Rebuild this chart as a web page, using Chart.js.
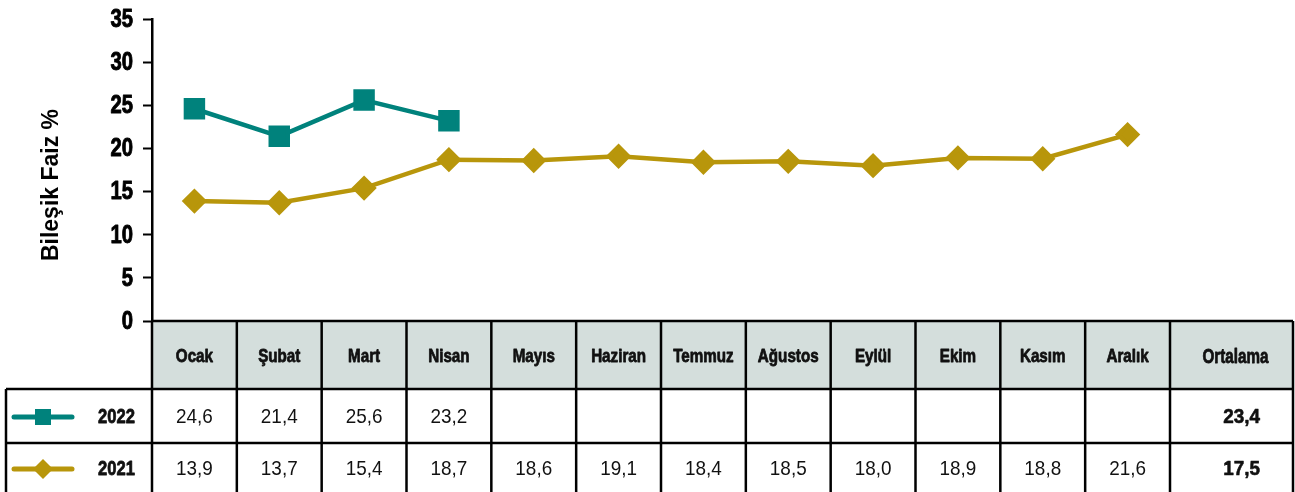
<!DOCTYPE html>
<html>
<head>
<meta charset="utf-8">
<script src="https://cdn.jsdelivr.net/npm/chart.js@4/dist/chart.umd.min.js"></script>
<style>
  body { margin: 0; background: #fff; }
  #wrap { width: 1295px; height: 492px; }
</style>
</head>
<body>
<div id="wrap"><canvas id="faiz" width="1295" height="492"></canvas></div>
<script>
const months = ["Ocak", "Şubat", "Mart", "Nisan", "Mayıs", "Haziran", "Temmuz", "Ağustos", "Eylül", "Ekim", "Kasım", "Aralık"];
const avgLabel = "Ortalama";
const years = ["2022", "2021"];
const values2022 = [24.6, 21.4, 25.6, 23.2, null, null, null, null, null, null, null, null];
const values2021 = [13.9, 13.7, 15.4, 18.7, 18.6, 19.1, 18.4, 18.5, 18.0, 18.9, 18.8, 21.6];
const averages = [23.4, 17.5];
const yTicks = [0, 5, 10, 15, 20, 25, 30, 35];
const yTitle = "Bileşik Faiz %";

const TEAL = "#00827c";
const GOLD = "#b8960b";
const SANS = "'Liberation Sans', Arial, sans-serif";

function fmt(v) {
    return v == null ? "" : v.toFixed(1).replace(".", ",");
}

// narrow text: the original uses a condensed face, so squeeze a normal one
// (heavy = thin outline so squeezed bold keeps its weight)
function narrowText(ctx, text, x, y, align, sx, heavy) {
    ctx.save();
    ctx.translate(x, y);
    ctx.scale(sx, 1);
    ctx.textAlign = align;
    ctx.fillText(text, 0, 0);
    if (heavy) {
        ctx.strokeStyle = ctx.fillStyle;
        ctx.lineWidth = heavy;
        ctx.lineJoin = "round";
        ctx.strokeText(text, 0, 0);
    }
    ctx.restore();
}

const tablePlugin = {
    id: "table",
    afterDraw(chart) {
        const ctx = chart.ctx;
        const area = chart.chartArea;
        const ys = chart.scales.y;
        const xs = chart.scales.x;
        const colW = (area.right - area.left) / months.length;
        const right = 1293;
        const top = area.bottom;
        const hBot = top + 68;
        const r1Bot = hBot + 54;
        const r2Bot = r1Bot + 54;
        const leftBox = 6;
        ctx.save();

        // y tick labels and axis title
        ctx.fillStyle = "#000";
        ctx.textBaseline = "middle";
        ctx.font = "bold 25px " + SANS;
        yTicks.forEach(v => narrowText(ctx, String(v), 133, ys.getPixelForValue(v) + 1, "right", 0.81, 0.9));
        ctx.save();
        ctx.translate(52, 185);
        ctx.rotate(-Math.PI / 2);
        ctx.font = "bold 23px " + SANS;
        ctx.textAlign = "center";
        ctx.fillText(yTitle, 0, 0);
        ctx.restore();

        // grid of the table
        ctx.fillStyle = "#d4dedc";
        ctx.fillRect(area.left, top, right - area.left, hBot - top);
        ctx.strokeStyle = "#000";
        ctx.lineWidth = 2.5;
        ctx.beginPath();
        ctx.moveTo(area.left, top); ctx.lineTo(right, top);
        ctx.moveTo(leftBox, hBot); ctx.lineTo(right, hBot);
        ctx.moveTo(leftBox, r1Bot); ctx.lineTo(right, r1Bot);
        ctx.moveTo(leftBox, hBot); ctx.lineTo(leftBox, r2Bot);
        for (let i = 0; i <= months.length; i++) {
            const x = area.left + i * colW;
            ctx.moveTo(x, top); ctx.lineTo(x, r2Bot);
        }
        ctx.moveTo(right, top); ctx.lineTo(right, r2Bot);
        ctx.stroke();

        // cells
        ctx.fillStyle = "#111";
        const headY = (top + hBot) / 2 + 2;
        const rowsY = [(hBot + r1Bot) / 2 + 1, (r1Bot + r2Bot) / 2 - 1];
        const series = [values2022, values2021];
        months.forEach((m, i) => {
            const cx = xs.getPixelForValue(i);
            ctx.font = "bold 19px " + SANS;
            narrowText(ctx, m, cx, headY, "center", 0.8, 0.8);
            ctx.font = "21px " + SANS;
            series.forEach((s, j) => narrowText(ctx, fmt(s[i]), cx, rowsY[j], "center", 0.9));
        });
        ctx.font = "bold 20px " + SANS;
        narrowText(ctx, avgLabel, (area.right + right) / 2 + 4, headY, "center", 0.76, 0.8);
        ctx.font = "bold 21px " + SANS;
        averages.forEach((a, j) => narrowText(ctx, fmt(a), 1260, rowsY[j], "right", 0.9, 0.6));

        // year labels with legend markers
        years.forEach((y, j) => narrowText(ctx, y, 135, rowsY[j], "right", 0.79, 0.8));
        [TEAL, GOLD].forEach((c, j) => {
            const ly = rowsY[j];
            ctx.strokeStyle = c;
            ctx.lineWidth = 5;
            ctx.lineCap = "round";
            ctx.beginPath();
            ctx.moveTo(14, ly); ctx.lineTo(72, ly);
            ctx.stroke();
            ctx.fillStyle = c;
            ctx.beginPath();
            if (j === 0) {
                ctx.rect(35, ly - 8, 16, 16);
            } else {
                ctx.moveTo(43, ly - 10); ctx.lineTo(53, ly); ctx.lineTo(43, ly + 10); ctx.lineTo(33, ly);
                ctx.closePath();
            }
            ctx.fill();
        });
        ctx.restore();
    }
};

new Chart("faiz", {
    type: "line",
    data: {
        labels: months,
        datasets: [{
            label: years[0],
            data: values2022,
            borderColor: TEAL,
            backgroundColor: TEAL,
            borderWidth: 4.5,
            pointStyle: "rect",
            pointRadius: 12,
            pointHoverRadius: 12,
            tension: 0
        }, {
            label: years[1],
            data: values2021,
            borderColor: GOLD,
            backgroundColor: GOLD,
            borderWidth: 4.5,
            pointStyle: "rectRot",
            pointRadius: 9.5,
            pointHoverRadius: 9.5,
            tension: 0
        }]
    },
    options: {
        responsive: false,
        animation: false,
        events: [],
        layout: {
            padding: { top: 19, right: 125, bottom: 171, left: 0 }
        },
        plugins: {
            legend: { display: false },
            tooltip: { enabled: false }
        },
        scales: {
            x: {
                display: false,
                offset: true
            },
            y: {
                min: 0,
                max: 35,
                afterBuildTicks(scale) {
                    scale.ticks = yTicks.map(v => ({ value: v }));
                },
                afterFit(scale) {
                    scale.width = 152;
                },
                border: { color: "#000", width: 2.5 },
                grid: {
                    drawOnChartArea: false,
                    drawTicks: true,
                    tickLength: 9,
                    tickWidth: 2,
                    tickColor: "#000"
                },
                ticks: {
                    color: "rgba(0,0,0,0)",
                    font: { family: SANS, size: 12 }
                }
            }
        }
    },
    plugins: [tablePlugin]
});
</script>
</body>
</html>
